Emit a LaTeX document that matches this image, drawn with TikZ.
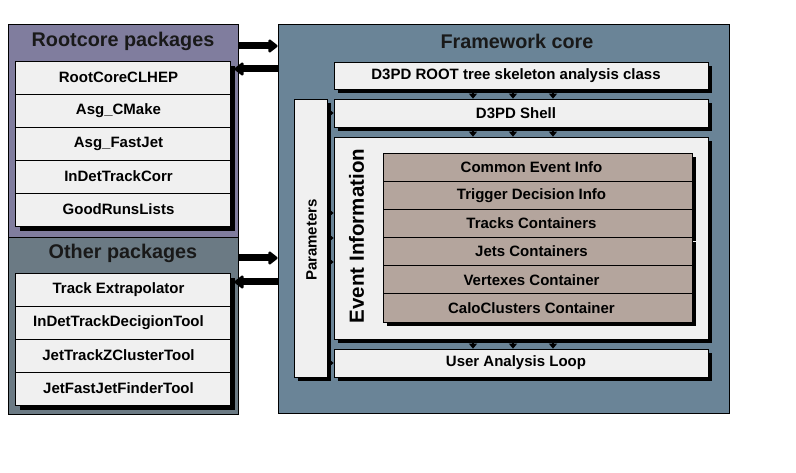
\documentclass[tikz,border=0pt]{standalone}
\usepackage{fontspec}
\setmainfont{Liberation Sans}
\usetikzlibrary{arrows.meta,shadows}
\definecolor{rcfill}{HTML}{807D9E}
\definecolor{opfill}{HTML}{6B7A84}
\definecolor{fwfill}{HTML}{6A8497}
\definecolor{lightbox}{HTML}{F0F0F0}
\definecolor{brownbox}{HTML}{B4A59D}
\tikzset{
  panel/.style={draw=black, line width=0.8pt, inner sep=0pt},
  paneltitle/.style={font=\fontsize{19.8}{22}\selectfont\bfseries, text=black!90, inner sep=0pt},
  leftshift/.style={execute at begin node={\hspace*{-#1}}},
  rowbox/.style={draw=black, line width=0.7pt, fill=lightbox, inner sep=0pt,
    font=\fontsize{15}{16}\selectfont\bfseries, leftshift=8pt,
    drop shadow={shadow xshift=5pt, shadow yshift=-5pt, fill=black, opacity=1}},
  corebox/.style={draw=black, line width=0.7pt, fill=lightbox, inner sep=0pt,
    font=\fontsize{15}{16}\selectfont\bfseries, leftshift=10pt,
    drop shadow={shadow xshift=4pt, shadow yshift=-4pt, fill=black, opacity=1}},
  brownrow/.style={draw=black, line width=0.7pt, fill=brownbox, inner sep=0pt,
    font=\fontsize{15}{16}\selectfont\bfseries, leftshift=12pt,
    drop shadow={shadow xshift=4pt, shadow yshift=-4pt, fill=black, opacity=1}},
  bigarrow/.style={line width=7pt, -{Triangle[length=10pt,width=15pt,round]}},
  smallarrow/.style={line width=2pt, -{Triangle[length=5pt,width=8pt]}},
}
\begin{document}
\begin{tikzpicture}[x=1pt,y=1pt]
\useasboundingbox (0,0) rectangle (796,472);
\fill[white] (0,0) rectangle (796,472);

% panels
\node[panel, fill=rcfill, minimum width=230pt, minimum height=213pt] (rc) at (123,341.5) {};
\node[panel, fill=opfill, minimum width=230pt, minimum height=177pt] (op) at (123,146.5) {};
\node[panel, fill=fwfill, minimum width=451pt, minimum height=389pt] (fw) at (503.5,253.5) {};

\node[paneltitle] (rct) at (123,431) {Rootcore packages};
\node[paneltitle] (opt) at (123,219) {Other packages};
\node[paneltitle] (fwt) at (517,431) {Framework core};

% rootcore list
\foreach \n/\t/\y in {r1/RootCoreCLHEP/394.5, r2/Asg\_CMake/361.5, r3/Asg\_FastJet/328.5,
    r4/InDetTrackCorr/295.5, r5/GoodRunsLists/262.5}
  \node[rowbox, minimum width=215pt, minimum height=33pt] (\n) at (122.5,\y) {\t};

% other list
\foreach \n/\t/\y in {o1/Track Extrapolator/182.5, o2/InDetTrackDecigionTool/149.5,
    o3/JetTrackZClusterTool/116.5, o4/JetFastJetFinderTool/83.5}
  \node[rowbox, minimum width=215pt, minimum height=33pt] (\n) at (122.5,\y) {\t};

% framework core boxes
\node[corebox, minimum width=374pt, minimum height=27pt] (root) at (521,396.5) {D3PD ROOT tree skeleton analysis class};
\node[corebox, minimum width=374pt, minimum height=28pt] (shell) at (521,359) {D3PD Shell};
\node[corebox, minimum width=374pt, minimum height=202pt] (evt) at (521,234) {};
\node[corebox, minimum width=374pt, minimum height=28pt] (loop) at (521,109) {User Analysis Loop};
\node[corebox, minimum width=33pt, minimum height=278pt] (par) at (310.5,234) {};
\node[font=\fontsize{15}{16}\selectfont\bfseries, rotate=90, inner sep=0pt] (part) at (311.5,232) {Parameters};
\node[font=\fontsize{20.5}{22}\selectfont\bfseries, rotate=90, inner sep=0pt] (evtt) at (356.5,236) {Event Information};

% brown rows
\foreach \n/\t/\y in {b1/Common Event Info/304.9, b2/Trigger Decision Info/276.75,
    b3/Tracks Containers/248.6, b4/Jets Containers/220.4,
    b5/Vertexes Container/192.25, b6/CaloClusters Container/164.1}
  \node[brownrow, minimum width=309pt, minimum height=28.17pt] (\n) at (537.5,\y) {\t};

% big arrows between panels
\coordinate (ya) at (0,426);
\coordinate (yb) at (0,403);
\coordinate (yc) at (0,214);
\coordinate (yd) at (0,190);
\draw[bigarrow] (rc.east |- ya) -- (fw.west |- ya);
\draw[bigarrow] (fw.west |- yb) -- ([xshift=-4pt]rc.east |- yb);
\draw[bigarrow] (op.east |- yc) -- (fw.west |- yc);
\draw[bigarrow] (fw.west |- yd) -- ([xshift=-4pt]op.east |- yd);

% small vertical arrows
\foreach \dx in {-48,-8,32} {
  \draw[smallarrow] ([xshift=\dx pt]root.south) -- ([xshift=\dx pt]shell.north);
  \draw[smallarrow] ([xshift=\dx pt]shell.south) -- ([xshift=\dx pt]evt.north);
  \draw[smallarrow] ([xshift=\dx pt]evt.south) -- ([xshift=\dx pt]loop.north);
}

% small horizontal arrows from parameters
\coordinate (e1) at ([yshift=25pt]evt.west);
\coordinate (e2) at (evt.west);
\coordinate (e3) at ([yshift=-24pt]evt.west);
\draw[smallarrow] (par.east |- shell.west) -- (shell.west);
\foreach \e in {e1,e2,e3}
  \draw[smallarrow] (par.east |- \e) -- (\e);
\draw[smallarrow] (par.east |- loop.west) -- (loop.west);
\end{tikzpicture}
\end{document}
